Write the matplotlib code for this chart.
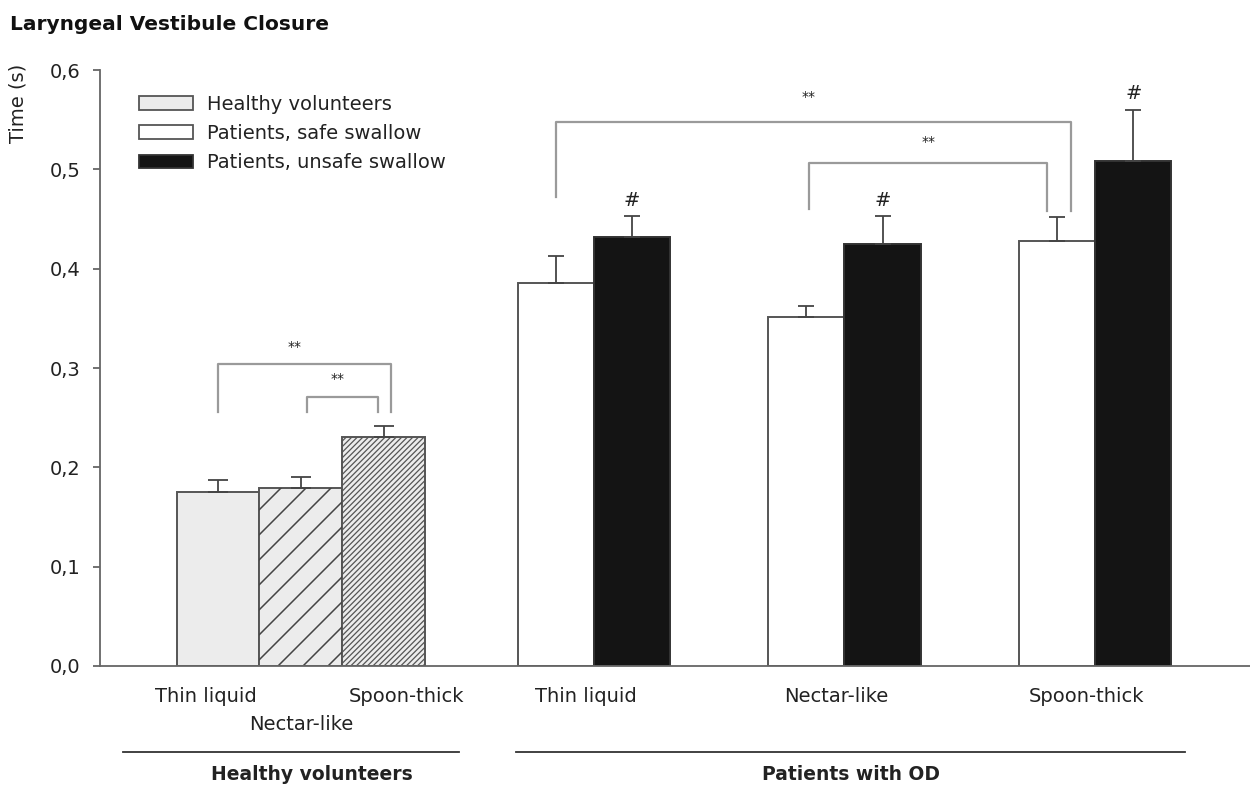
import numpy as np
import matplotlib
matplotlib.use("Agg")
import matplotlib.pyplot as plt  # noqa: E402
import matplotlib.transforms as mtransforms  # noqa: E402
from matplotlib.patches import Patch  # noqa: E402
from matplotlib.lines import Line2D  # noqa: E402

plt.rcParams["font.family"] = ["DejaVu Sans"]
plt.rcParams["hatch.color"] = "#3a3a3a"
plt.rcParams["hatch.linewidth"] = 0.9

# --- data ---
fluids = ["Thin liquid", "Nectar-like", "Spoon-thick"]
healthy_mean = [0.175, 0.179, 0.231]
healthy_err = [0.012, 0.011, 0.011]
safe_mean = [0.386, 0.351, 0.428]
safe_err = [0.027, 0.011, 0.024]
unsafe_mean = [0.432, 0.425, 0.508]
unsafe_err = [0.021, 0.028, 0.052]
legend_labels = ["Healthy volunteers", "Patients, safe swallow",
                 "Patients, unsafe swallow"]
group_names = ["Healthy volunteers", "Patients with OD"]

TXT = "#222222"
EDGE = "#555555"
BRK = "#9a9a9a"
FS = 14

fig = plt.figure(figsize=(12.5, 7.85), dpi=100)
ax = fig.add_axes([0.08, 0.1516, 0.92, 0.7592])
ax.set_xlim(-1.426, 12.47)
ax.set_ylim(0, 0.6)

h_pos = np.arange(3)
g_pos = 4.54 + 3.03 * np.arange(3)
pw = 0.92
safe_pos = g_pos - pw / 2
unsafe_pos = g_pos + pw / 2

bars_h = ax.bar(h_pos, healthy_mean, width=1.0, color="#ececec",
                edgecolor=EDGE, linewidth=1.4, zorder=2)
bars_h[2].set_hatch("//////")
ax.bar(safe_pos, safe_mean, width=pw, color="white", edgecolor=EDGE,
       linewidth=1.4, zorder=2)
ax.bar(unsafe_pos, unsafe_mean, width=pw, color="#141414",
       edgecolor="#333333", linewidth=1.4, zorder=2)

# sparse diagonal hatch on the nectar-like healthy bar (drawn by hand,
# matplotlib's '/' is too dense)
b = bars_h[1]
(x0d, y0d), (x1d, y1d) = ax.transData.transform(
    [[b.get_x(), 0], [b.get_x() + b.get_width(), b.get_height()]])
inv = ax.transData.inverted()
base = -134.0
k0 = int(np.floor((y0d - x1d - base) / 25)) - 1
k1 = int(np.ceil((y1d - x0d - base) / 25)) + 1
for k in range(k0, k1 + 1):
    c = base + 25 * k
    pts = inv.transform([[x0d, x0d + c], [x1d, x1d + c]])
    ln, = ax.plot(pts[:, 0], pts[:, 1], color="#444444", lw=1.1, zorder=2.5)
    ln.set_clip_path(b)

# error bars (upper only)
eb_kw = dict(fmt="none", ecolor="#444444", elinewidth=1.3, capthick=1.3,
             zorder=3)
ax.errorbar(h_pos, healthy_mean, yerr=[np.zeros(3), healthy_err],
            capsize=7, **eb_kw)
ax.errorbar(safe_pos, safe_mean, yerr=[np.zeros(3), safe_err],
            capsize=6, **eb_kw)
ax.errorbar(unsafe_pos, unsafe_mean, yerr=[np.zeros(3), unsafe_err],
            capsize=6, **eb_kw)

for x, m, e in zip(unsafe_pos, unsafe_mean, unsafe_err):
    ax.text(x, m + e + 0.016, "#", ha="center", va="center",
            fontsize=14, color=TXT)


def bracket(xl, xr, ytop, yl, yr, sx, sy):
    ax.plot([xl, xl, xr, xr], [yl, ytop, ytop, yr], color=BRK, lw=1.6,
            clip_on=False, zorder=1)
    ax.text(sx, sy, "**", ha="center", va="center", fontsize=10, color=TXT)


bracket(h_pos[0], h_pos[2] + 0.09, 0.304, 0.256, 0.256, 0.93, 0.321)
bracket(h_pos[1] + 0.08, h_pos[2] - 0.07, 0.271, 0.256, 0.256, 1.45, 0.289)
bracket(safe_pos[0], safe_pos[2] + 0.17, 0.548, 0.472, 0.458, 7.13, 0.573)
bracket(safe_pos[1] + 0.03, safe_pos[2] - 0.12, 0.506, 0.460, 0.458,
        8.59, 0.528)

# axes styling
for s in ("top", "right"):
    ax.spines[s].set_visible(False)
for s in ("left", "bottom"):
    ax.spines[s].set_color("#666666")
    ax.spines[s].set_linewidth(1.3)
ax.set_yticks(np.arange(0, 0.61, 0.1))
ax.yaxis.set_major_formatter(
    plt.FuncFormatter(lambda v, p: f"{v:.1f}".replace(".", ",")))
ax.tick_params(axis="y", length=5, width=1.3, color="#666666", pad=9,
               labelsize=FS, labelcolor=TXT)
ax.set_xticks([])

# category labels under the axis
trans = mtransforms.blended_transform_factory(ax.transData, fig.transFigure)
h_lab_x = [h_pos[0] - 0.15, h_pos[1], h_pos[2] + 0.28]
h_lab_y = [1 - 696 / 785, 1 - 724 / 785, 1 - 696 / 785]
for x, y, t in zip(h_lab_x, h_lab_y, fluids):
    ax.text(x, y, t, transform=trans, ha="center", va="center",
            fontsize=FS, color=TXT)
for x, t in zip(g_pos, fluids):
    ax.text(x - 0.1, 1 - 696 / 785, t, transform=trans, ha="center",
            va="center", fontsize=FS, color=TXT)

# group lines and names
gl_y = 1 - 752 / 785
for (xa, xb), xn, name in zip([(-1.15, 2.91), (3.60, 11.69)], [1.14, 7.65],
                              group_names):
    fig.add_artist(Line2D([xa, xb], [gl_y, gl_y], transform=trans,
                          color="#333333", lw=1.3))
    ax.text(xn, 1 - 775 / 785, name, transform=trans,
            ha="center", va="center", fontsize=13.5, fontweight="bold",
            color=TXT)

# legend
handles = [Patch(facecolor="#ececec", edgecolor=EDGE, lw=1.3),
           Patch(facecolor="white", edgecolor=EDGE, lw=1.3),
           Patch(facecolor="#141414", edgecolor="#333333", lw=1.3)]
leg = ax.legend(handles, legend_labels, loc="upper left",
                bbox_to_anchor=(139 / 1250, 1 - 95 / 785),
                bbox_transform=fig.transFigure, frameon=False,
                fontsize=FS, handlelength=2.78, handleheight=0.7,
                handletextpad=0.72, labelspacing=0.52, borderpad=0,
                borderaxespad=0)
for t in leg.get_texts():
    t.set_color(TXT)

fig.text(10 / 1250, 1 - 25 / 785, "Laryngeal Vestibule Closure",
         fontsize=14.5, fontweight="bold", ha="left", va="center",
         color="#111111")
fig.text(18 / 1250, 1 - 103 / 785, "Time (s)", rotation=90, fontsize=FS,
         ha="center", va="center", color=TXT)

fig.savefig("out.png", dpi=100)
